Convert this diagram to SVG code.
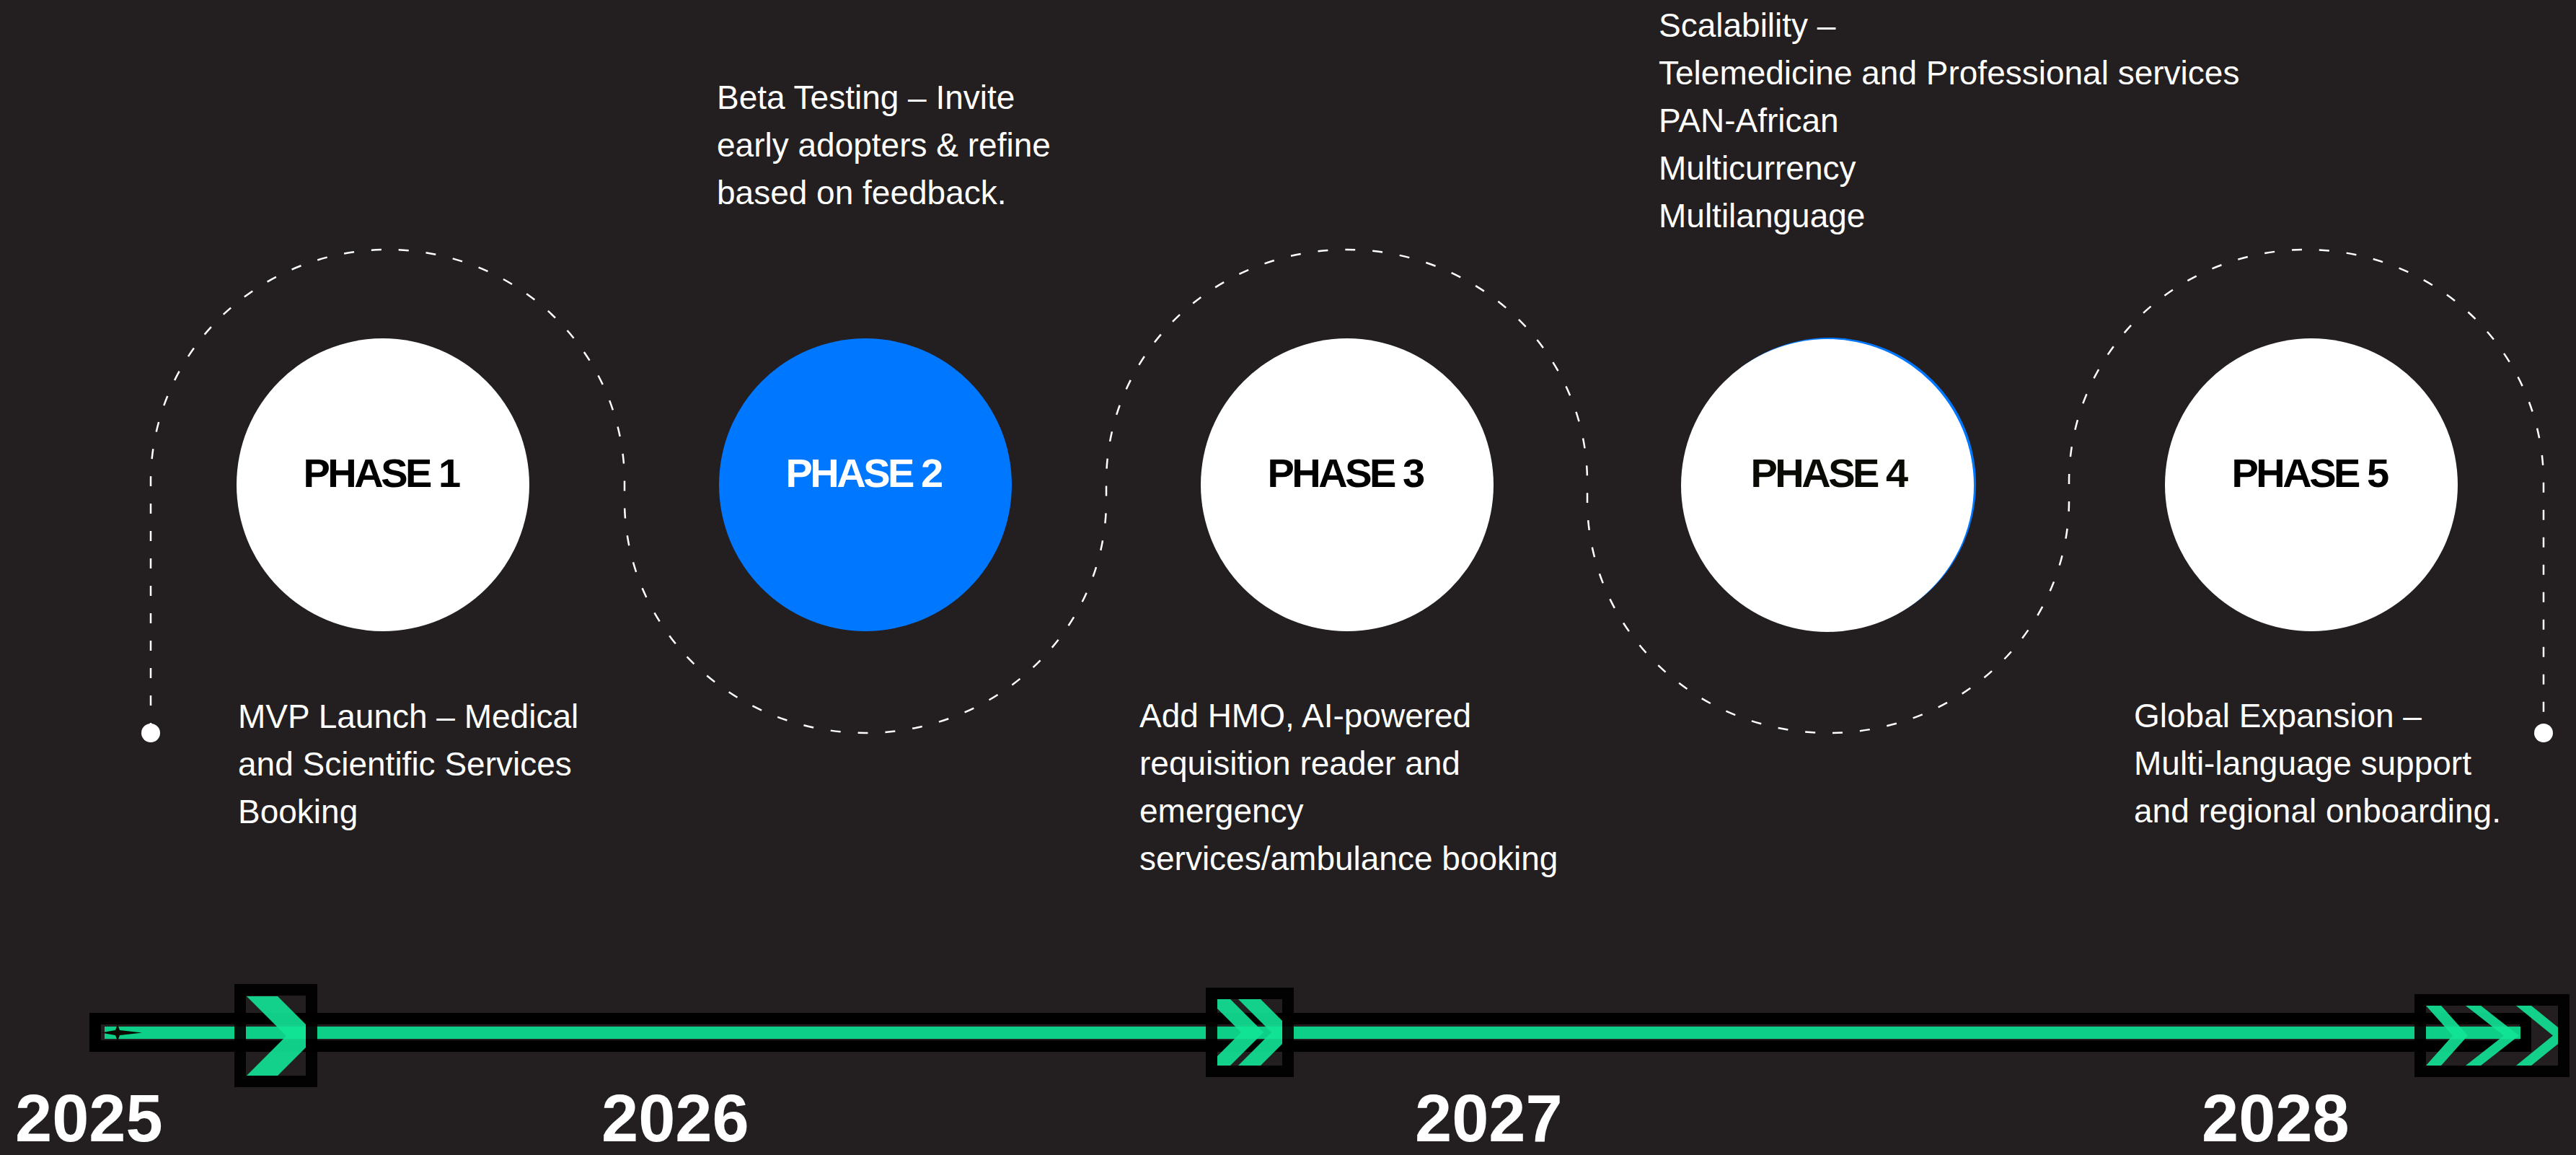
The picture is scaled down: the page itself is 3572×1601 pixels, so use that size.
<svg xmlns="http://www.w3.org/2000/svg" width="3572" height="1601" viewBox="0 0 3572 1601">
<style>
.phase{font-family:"Liberation Sans",Arial,sans-serif;font-weight:700;font-size:56px;letter-spacing:-3.5px;text-anchor:middle}
.body{font-family:"Liberation Sans",Arial,sans-serif;font-size:46px;fill:#ffffff}
.year{font-family:"Liberation Sans",Arial,sans-serif;font-weight:700;font-size:92px;fill:#ffffff}
.dash{fill:none;stroke:#ffffff;stroke-width:2.5;stroke-dasharray:14 24}
.box{fill:none;stroke:#000000;stroke-width:16;stroke-opacity:0.92}
.chev{fill:#12E496;fill-opacity:0.9}
</style>
<defs>
<clipPath id="c1"><rect x="341" y="1380" width="83" height="111"/></clipPath>
<clipPath id="c2"><rect x="1688" y="1385" width="90" height="92"/></clipPath>
<clipPath id="c3"><rect x="3364" y="1394" width="183" height="83"/></clipPath>
</defs>
<rect x="0" y="0" width="3572" height="1601" fill="#231F20"/>

<g id="connectors">
<path class="dash" d="M209,1016 L209,668 A328.5,322 0 0 1 866,668 L866,694 A334,322 0 0 0 1534,694 L1534,668 A333.5,322 0 0 1 2201,668 L2201,694 A334,322 0 0 0 2869,694 L2869,668 A329,322 0 0 1 3527,668 L3527,1016"/>
<circle cx="209" cy="1016" r="13" fill="#ffffff"/>
<circle cx="3527" cy="1016" r="13" fill="#ffffff"/>
</g>

<g id="phase1">
<circle cx="531" cy="672" r="203" fill="#ffffff"/>
<text class="phase" x="528" y="675" fill="#000000">PHASE 1</text>
<text class="body"><tspan x="330" y="1009">MVP Launch – Medical</tspan><tspan x="330" y="1075">and Scientific Services</tspan><tspan x="330" y="1141">Booking</tspan></text>
</g>

<g id="phase2">
<circle cx="1200" cy="672" r="203" fill="#0077FF"/>
<text class="phase" x="1197" y="675" fill="#ffffff">PHASE 2</text>
<text class="body"><tspan x="994" y="151">Beta Testing – Invite</tspan><tspan x="994" y="217">early adopters &amp; refine</tspan><tspan x="994" y="283">based on feedback.</tspan></text>
</g>

<g id="phase3">
<circle cx="1868" cy="672" r="203" fill="#ffffff"/>
<text class="phase" x="1865" y="675" fill="#000000">PHASE 3</text>
<text class="body"><tspan x="1580" y="1008">Add HMO, AI-powered</tspan><tspan x="1580" y="1074">requisition reader and</tspan><tspan x="1580" y="1140">emergency</tspan><tspan x="1580" y="1206">services/ambulance booking</tspan></text>
</g>

<g id="phase4">
<circle cx="2537" cy="671" r="203" fill="#0077FF"/>
<circle cx="2534" cy="673" r="203" fill="#ffffff"/>
<text class="phase" x="2535" y="675" fill="#0B0B05">PHASE 4</text>
<text class="body"><tspan x="2300" y="51">Scalability –</tspan><tspan x="2300" y="117">Telemedicine and Professional services</tspan><tspan x="2300" y="183">PAN-African</tspan><tspan x="2300" y="249">Multicurrency</tspan><tspan x="2300" y="315">Multilanguage</tspan></text>
</g>

<g id="phase5">
<circle cx="3205" cy="672" r="203" fill="#ffffff"/>
<text class="phase" x="3202" y="675" fill="#000000">PHASE 5</text>
<text class="body"><tspan x="2959" y="1008">Global Expansion –</tspan><tspan x="2959" y="1074">Multi-language support</tspan><tspan x="2959" y="1140">and regional onboarding.</tspan></text>
</g>

<g id="timeline">
<rect x="132" y="1412" width="3370" height="38" fill="none" stroke="#000000" stroke-width="16"/>
<line x1="145" y1="1431.5" x2="3495" y2="1431.5" stroke="#0DCF88" stroke-width="17"/>
<path d="M140,1431.5 L160,1428 L163,1420 L166,1428 L197,1431.5 L166,1435 L163,1443 L160,1435 Z" fill="#0A0A00"/>
<rect class="box" x="333" y="1372" width="99" height="127"/>
<rect class="box" x="1680" y="1377" width="106" height="108"/>
<rect class="box" x="3356" y="1386" width="199" height="99"/>
<g clip-path="url(#c1)">
<polygon class="chev" points="342,1381 385,1381 440,1436 385,1491 342,1491 397,1436"/>
</g>
<g clip-path="url(#c2)">
<polygon class="chev" points="1675,1385 1706,1385 1752,1431 1706,1477 1675,1477 1721,1431"/>
<polygon class="chev" points="1717,1385 1748,1385 1794,1431 1748,1477 1717,1477 1763,1431"/>
</g>
<g clip-path="url(#c3)">
<polygon class="chev" points="3364,1394 3385,1394 3422,1435.5 3385,1477 3364,1477 3401,1435.5"/>
<polygon class="chev" points="3419,1394 3440,1394 3493,1435.5 3440,1477 3419,1477 3472,1435.5"/>
<polygon class="chev" points="3489,1394 3510,1394 3561,1435.5 3510,1477 3489,1477 3540,1435.5"/>
</g>
</g>

<g id="years">
<text class="year" x="21" y="1582">2025</text>
<text class="year" x="834" y="1582">2026</text>
<text class="year" x="1962" y="1582">2027</text>
<text class="year" x="3053" y="1582">2028</text>
</g>
</svg>
